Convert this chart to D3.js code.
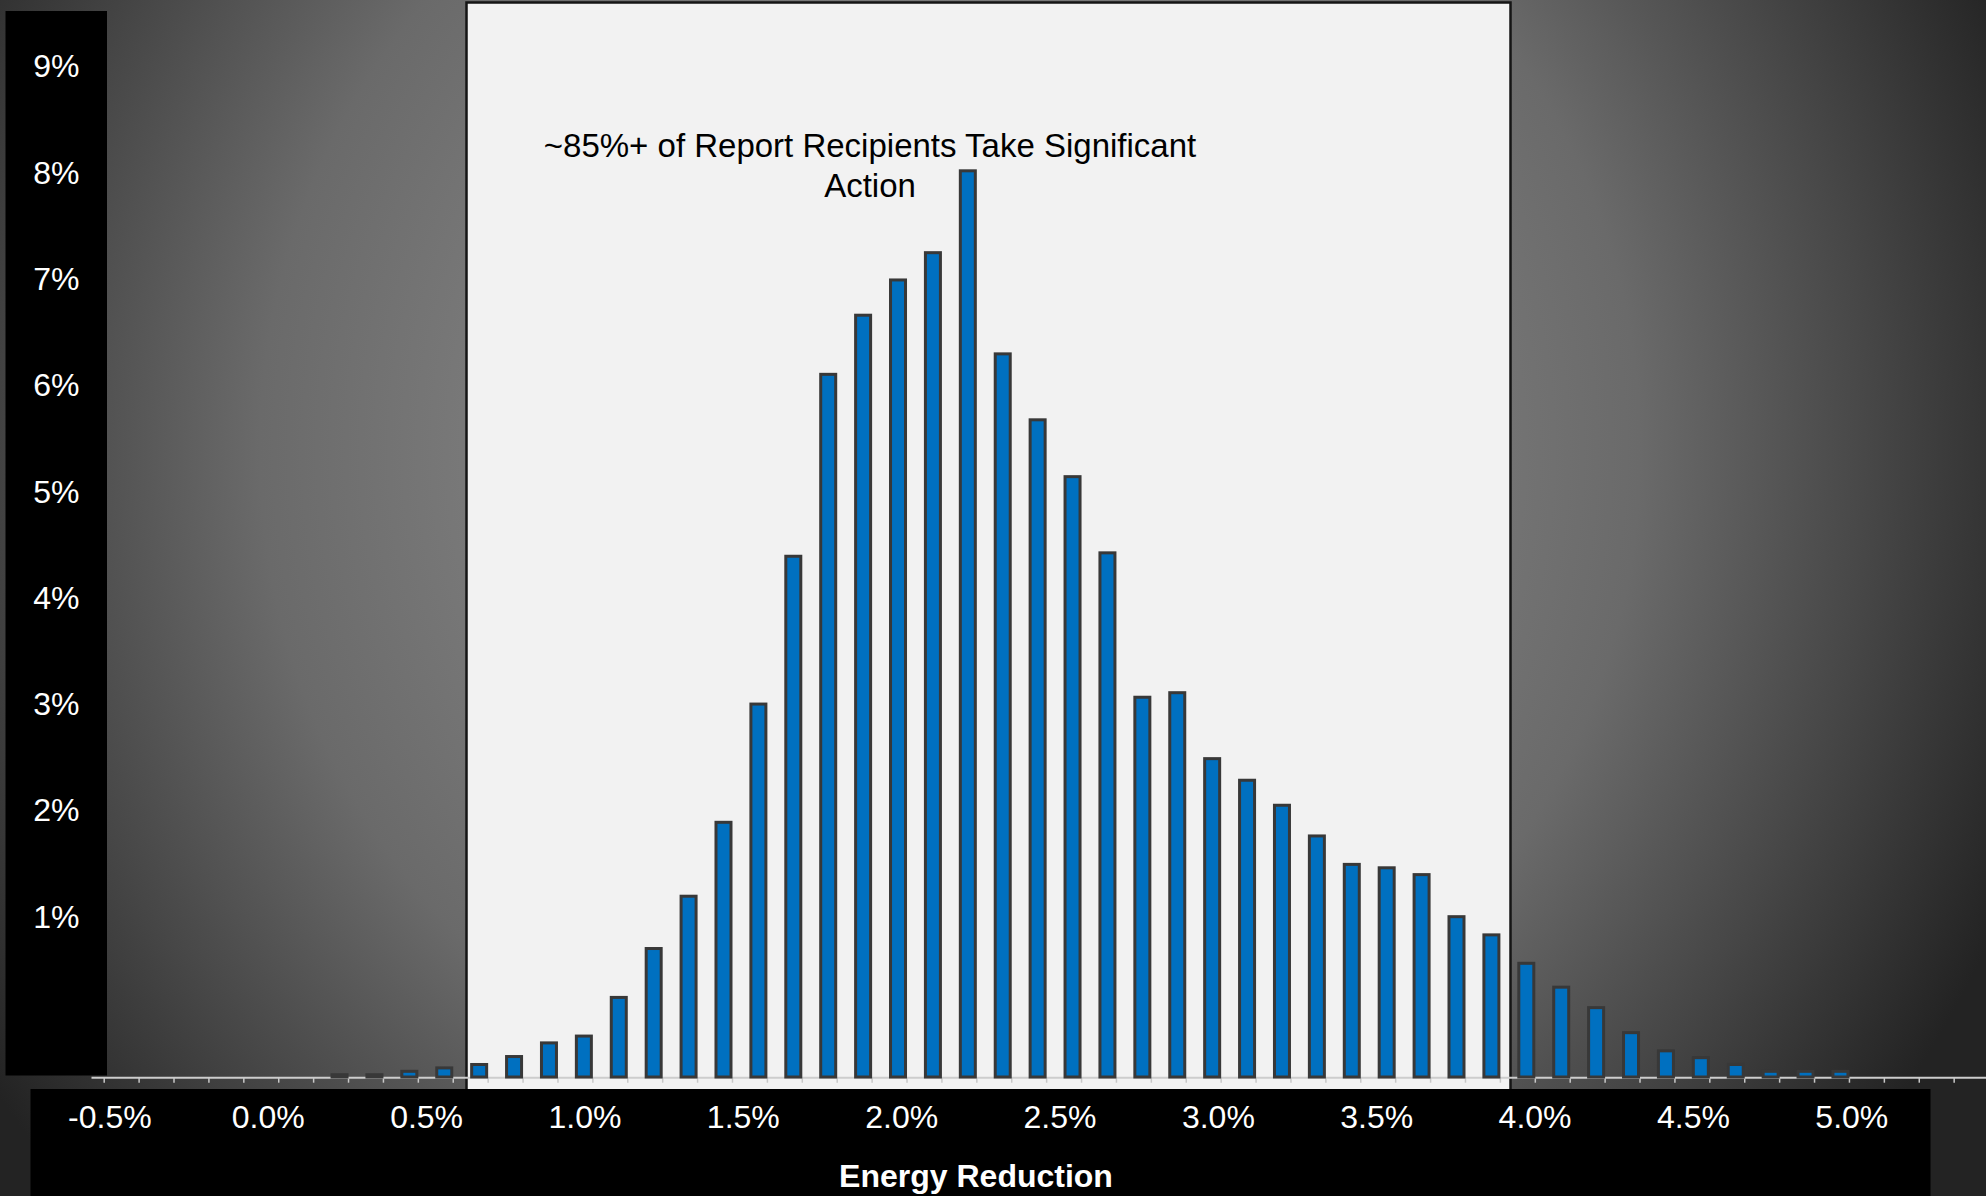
<!DOCTYPE html>
<html>
<head>
<meta charset="utf-8">
<script src="https://cdn.jsdelivr.net/npm/d3@7"></script>
<style>
  html, body { margin: 0; padding: 0; background: #2a2a2a; overflow: hidden; }
  svg { display: block; }
  text { font-family: "Liberation Sans", Arial, Helvetica, sans-serif; }
</style>
</head>
<body>
<svg id="chart" width="1986" height="1196"></svg>
<script>
// Histogram bins along the category axis
const bins = [
   1,  2,  3,  4,  5,  6,  7,  8,  9, 10, 11, 12, 13, 14,
  15, 16, 17, 18, 19, 20, 21, 22, 23, 24, 25, 26, 27, 28,
  29, 30, 31, 32, 33, 34, 35, 36, 37, 38, 39, 40, 41, 42,
  43, 44, 45, 46, 47, 48, 49, 50, 51, 52, 53, 54, 55, 56
];

// Share of report recipients in each bin (%)
const shares = [
  0, 0, 0, 0, 0, 0,
  0.02, 0.02, 0.05, 0.08, 0.11, 0.18, 0.30, 0.36, 0.70, 1.13,
  1.59, 2.24, 3.28, 4.58, 6.18, 6.70, 7.01, 7.25, 7.97, 6.36,
  5.78, 5.28, 4.61, 3.34, 3.38, 2.80, 2.61, 2.39, 2.12, 1.87,
  1.84, 1.78, 1.41, 1.25, 1.00, 0.79, 0.61, 0.39, 0.23, 0.17,
  0.11, 0.05, 0.05, 0.05,
  0, 0, 0, 0, 0, 0
];

// Labels of the vertical label panel
const yTickValues = [1, 2, 3, 4, 5, 6, 7, 8, 9];
const yTickLabels = ["1%", "2%", "3%", "4%", "5%", "6%", "7%", "8%", "9%"];

// Labels of the horizontal label panel (energy reduction, %)
const xTickValues = [-0.5, 0.0, 0.5, 1.0, 1.5, 2.0, 2.5, 3.0, 3.5, 4.0, 4.5, 5.0];
const xTickLabels = ["-0.5%", "0.0%", "0.5%", "1.0%", "1.5%", "2.0%", "2.5%",
                     "3.0%", "3.5%", "4.0%", "4.5%", "5.0%"];

const xAxisTitle = "Energy Reduction";
const calloutLines = ["~85%+ of Report Recipients Take Significant", "Action"];

const W = 1986, H = 1196;
const svg = d3.select("#chart");

// ---- background: soft grey vignette ----
const defs = svg.append("defs");
const bg = defs.append("radialGradient")
  .attr("id", "bgGrad")
  .attr("gradientUnits", "userSpaceOnUse")
  .attr("cx", 950).attr("cy", 450).attr("r", 1150);
[[0, "#868686"], [0.4, "#7a7a7a"], [0.6, "#6a6a6a"], [0.8, "#474747"], [1, "#232323"]]
  .forEach(([o, c]) => bg.append("stop").attr("offset", o).attr("stop-color", c));

svg.append("rect").attr("width", W).attr("height", H).attr("fill", "url(#bgGrad)");

// ---- highlight panel behind the central bins ----
svg.append("rect")
  .attr("x", 466.5).attr("y", 2.5)
  .attr("width", 1044).attr("height", 1110)
  .attr("fill", "#f2f2f2")
  .attr("stroke", "#151515")
  .attr("stroke-width", 2.5);

// ---- scales ----
const step = 34.905;
const x0 = 103.7;
const x = d3.scaleBand()
  .domain(bins)
  .range([x0, x0 + bins.length * step])
  .paddingInner(0).paddingOuter(0);

// bin boundaries (tick marks sit on them)
const xEdge = d3.scaleLinear()
  .domain([0, bins.length])
  .range([x0, x0 + bins.length * step]);

const baseY = 1077;
const y = d3.scaleLinear().domain([0, 9]).range([baseY, baseY - 9 * 113.7]);

// ---- category axis line and tick marks ----
const axisG = svg.append("g").attr("transform", `translate(0,${baseY + 0.7})`);
axisG.call(
  d3.axisBottom(xEdge)
    .tickValues(d3.range(0, bins.length + 1))
    .tickFormat("")
    .tickSize(5)
    .tickSizeOuter(0)
);
axisG.select(".domain").remove();
axisG.selectAll(".tick line").attr("stroke", "#c8c8c8").attr("stroke-width", 1.5);
axisG.insert("line", ":first-child")
  .attr("x1", 91.5).attr("x2", W)
  .attr("y1", 0).attr("y2", 0)
  .attr("stroke", "#cdcdcd").attr("stroke-width", 2);

// ---- bars ----
const barW = 15;        // fill width; bar ends just before the right bin edge
const barRightGap = 1;
const data = bins.map((b, i) => ({ bin: b, v: shares[i] })).filter(d => d.v > 0);

svg.append("g").selectAll("rect")
  .data(data)
  .join("rect")
  .attr("x", d => x(d.bin) + x.bandwidth() - barRightGap - barW)
  .attr("width", barW)
  .attr("y", d => y(d.v))
  .attr("height", d => y(0) - y(d.v))
  .attr("fill", "#0070c0")
  .attr("stroke", "#383838")
  .attr("stroke-width", 3);

// ---- vertical label panel ----
svg.append("rect")
  .attr("x", 5.5).attr("y", 11)
  .attr("width", 101.5).attr("height", 1064.5)
  .attr("fill", "#000");

const yLabel = d3.scaleLinear().domain([1, 9]).range([917, 66.7]);
const yAxisG = svg.append("g").attr("transform", "translate(79.5,0)");
yAxisG.call(
  d3.axisLeft(yLabel)
    .tickValues(yTickValues)
    .tickFormat((d, i) => yTickLabels[i])
    .tickSize(0)
    .tickPadding(0)
);
yAxisG.select(".domain").remove();
yAxisG.selectAll("text")
  .attr("fill", "#ffffff")
  .attr("font-size", 32)
  .attr("font-family", '"Liberation Sans", Arial, sans-serif');

// ---- horizontal label panel ----
svg.append("rect")
  .attr("x", 30.5).attr("y", 1089)
  .attr("width", 1900).attr("height", H - 1089)
  .attr("fill", "#000");

const xLabel = d3.scaleLinear().domain([-0.5, 5.0]).range([109.4, 1851.3]);
const xAxisG = svg.append("g").attr("transform", "translate(0,1105.6)");
xAxisG.call(
  d3.axisBottom(xLabel)
    .tickValues(xTickValues)
    .tickFormat((d, i) => xTickLabels[i])
    .tickSize(0)
    .tickPadding(0)
);
xAxisG.select(".domain").remove();
xAxisG.selectAll("text")
  .attr("fill", "#ffffff")
  .attr("font-size", 32)
  .attr("font-family", '"Liberation Sans", Arial, sans-serif');

svg.append("text")
  .attr("x", 976).attr("y", 1187)
  .attr("text-anchor", "middle")
  .attr("fill", "#ffffff")
  .attr("font-size", 32)
  .attr("font-weight", "bold")
  .text(xAxisTitle);

// ---- callout ----
svg.append("g").selectAll("text")
  .data(calloutLines)
  .join("text")
  .attr("x", 870)
  .attr("y", (d, i) => 156.7 + i * 40.3)
  .attr("text-anchor", "middle")
  .attr("fill", "#000000")
  .attr("font-size", 33)
  .text(d => d);
</script>
</body>
</html>
